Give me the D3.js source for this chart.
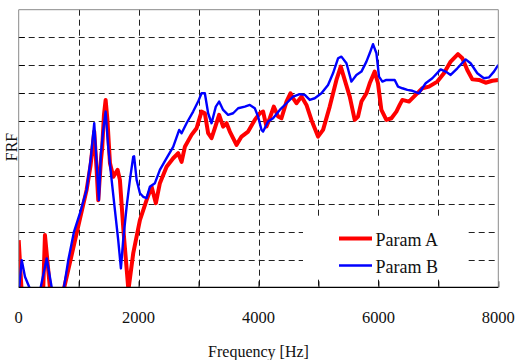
<!DOCTYPE html>
<html>
<head>
<meta charset="utf-8">
<script src="https://cdn.jsdelivr.net/npm/d3@7"></script>
<style>
    body { margin: 0; background: #fff; }
    svg { display: block; font-family: "Liberation Serif", "Times New Roman", serif; }
</style>
</head>
<body>
<div id="chart"></div>
<script>
"use strict";
const margin = {top: 9.7, right: 17.7, bottom: 72.7, left: 18.7}; // px
const width = 516;
const height = 360;

// frequency in Hz, response in grid units (no y labels on the original)
const freqA = [0, 45, 80, 380, 410, 438, 520, 560, 700, 760, 967, 1133, 1200, 1260, 1300, 1327, 1372, 1393, 1422, 1450, 1480, 1522, 1577, 1650, 1688, 1747, 1830, 1910, 2022, 2133, 2217, 2288, 2355, 2467, 2577, 2660, 2717, 2772, 2883, 2967, 3050, 3105, 3160, 3217, 3272, 3343, 3410, 3467, 3522, 3633, 3717, 3827, 3938, 4022, 4077, 4133, 4188, 4255, 4327, 4383, 4467, 4533, 4577, 4633, 4717, 4800, 4883, 4993, 5077, 5188, 5300, 5372, 5438, 5522, 5605, 5660, 5717, 5800, 5855, 5938, 5993, 6050, 6133, 6217, 6300, 6355, 6400, 6510, 6622, 6733, 6843, 6983, 7093, 7205, 7327, 7400, 7483, 7567, 7677, 7788, 7900, 8000];
const paramA = [17, 0, -15, -15, 0, 18.8, 0, -15, -15, 0, 19.5, 35.1, 44.1, 56.1, 42.3, 31.4, 45.8, 50.2, 62.1, 67.5, 60.3, 44.8, 39.8, 42.3, 38.7, 20.6, -1, 12.2, 24.2, 31.4, 36.2, 30.3, 37.5, 43.4, 46.5, 48.3, 45.2, 50.6, 54.9, 57.3, 63.3, 62.7, 55.5, 53.7, 57.3, 62.1, 57.9, 59.1, 56.1, 51.3, 54.3, 56.1, 60.3, 62.7, 63.3, 57.9, 60.9, 65.1, 61.5, 60.9, 66.9, 69.9, 68.1, 66.3, 68.7, 65.7, 60.3, 54.3, 56.7, 65.1, 74.7, 79.5, 74.7, 68.7, 60.3, 61.5, 66.9, 69.9, 73.5, 77.7, 73.5, 63.9, 60.3, 60.9, 63.3, 65.7, 67.5, 66.9, 69.3, 71.7, 72.3, 74.1, 77.1, 81.3, 84.0, 82.5, 78.3, 74.9, 74.7, 73.7, 74.4, 74.7];

const freqB = [0, 50, 105, 177, 220, 330, 367, 467, 550, 600, 700, 755, 827, 922, 1022, 1133, 1205, 1260, 1300, 1338, 1372, 1410, 1450, 1493, 1550, 1605, 1660, 1705, 1743, 1800, 1855, 1910, 1925, 1967, 2022, 2077, 2133, 2188, 2272, 2355, 2467, 2577, 2677, 2717, 2800, 2910, 2993, 3050, 3105, 3160, 3217, 3288, 3343, 3410, 3493, 3577, 3660, 3772, 3855, 3938, 3993, 4050, 4077, 4160, 4243, 4355, 4467, 4577, 4688, 4772, 4855, 4938, 5050, 5160, 5243, 5327, 5383, 5467, 5550, 5633, 5717, 5800, 5855, 5910, 5967, 6010, 6067, 6133, 6217, 6272, 6327, 6400, 6483, 6567, 6677, 6788, 6900, 7038, 7122, 7205, 7317, 7455, 7538, 7650, 7760, 7843, 7927, 8000];
const paramB = [-2, 9.8, 3.8, 0, -15, -15, 0, 10.4, 0, -15, -15, 0, 9.8, 20.0, 26.7, 35.1, 47.0, 59.1, 44.7, 31.4, 48.3, 56.7, 63.3, 50.6, 38.7, 27.8, 17.0, 6.8, 17.0, 29.0, 38.7, 47.0, 47.2, 38.7, 33.9, 32.6, 32.1, 36.2, 37.5, 42.3, 46.5, 50.6, 56.7, 55.5, 59.1, 63.3, 66.9, 69.9, 69.9, 62.7, 59.1, 65.1, 66.9, 63.9, 62.1, 62.7, 64.5, 65.1, 65.7, 64.5, 61.5, 56.7, 56.1, 59.7, 60.9, 63.9, 66.3, 68.7, 69.6, 69.3, 67.5, 68.1, 69.9, 72.9, 77.1, 82.5, 83.1, 80.7, 74.1, 76.5, 77.7, 81.3, 84.3, 87.6, 84.3, 75.9, 74.1, 74.7, 74.7, 74.7, 72.3, 71.7, 71.1, 70.8, 69.9, 73.5, 75.3, 78.5, 77.7, 76.5, 78.9, 82.1, 80.7, 77.1, 75.3, 75.6, 77.7, 80.1];

const xTicks = [0, 2000, 4000, 6000, 8000];
const xGrid = [1000, 2000, 3000, 4000, 5000, 6000, 7000];
const yGrid = [10, 20, 30, 40, 50, 60, 70, 80, 90];
const seriesNames = ["Param A", "Param B"];

const x = d3.scaleLinear().domain([0, 8000]).range([margin.left, width - margin.right]);
const y = d3.scaleLinear().domain([0, 100]).range([height - margin.bottom, margin.top]);

const svg = d3.select("#chart")
    .append("svg")
    .attr("width", width)
    .attr("height", height);

svg.append("defs").append("clipPath")
    .attr("id", "plot-clip")
    .append("rect")
    .attr("x", x(0))
    .attr("y", y(100))
    .attr("width", x(8000) - x(0))
    .attr("height", y(0) - y(100));

// dashed grid
const grid = svg.append("g")
    .attr("stroke", "#222")
    .attr("stroke-width", 1)
    .attr("stroke-dasharray", "6,4");

grid.selectAll("line.v")
    .data(xGrid)
    .join("line")
    .attr("class", "v")
    .attr("x1", (d) => Math.round(x(d)) + 0.5)
    .attr("x2", (d) => Math.round(x(d)) + 0.5)
    .attr("y1", y(100))
    .attr("y2", y(0));

grid.selectAll("line.h")
    .data(yGrid)
    .join("line")
    .attr("class", "h")
    .attr("x1", x(0))
    .attr("x2", x(8000))
    .attr("y1", (d) => Math.round(y(d)) + 0.5)
    .attr("y2", (d) => Math.round(y(d)) + 0.5);

// inner ticks on the left
svg.append("g")
    .selectAll("line")
    .data(yGrid)
    .join("line")
    .attr("stroke", "#000")
    .attr("x1", x(0))
    .attr("x2", x(0) + 6)
    .attr("y1", (d) => Math.round(y(d)) + 0.5)
    .attr("y2", (d) => Math.round(y(d)) + 0.5);

const line = d3.line()
    .x((d) => x(d[0]))
    .y((d) => y(d[1]));

const plot = svg.append("g").attr("clip-path", "url(#plot-clip)");

plot.append("path")
    .datum(d3.zip(freqA, paramA))
    .attr("fill", "none")
    .attr("stroke", "#ff0000")
    .attr("stroke-width", 4)
    .attr("stroke-linejoin", "round")
    .attr("d", line);

plot.append("path")
    .datum(d3.zip(freqB, paramB))
    .attr("fill", "none")
    .attr("stroke", "#0000ff")
    .attr("stroke-width", 2.4)
    .attr("stroke-linejoin", "round")
    .attr("d", line);

// legend, white box over the grid
const legend = svg.append("g");
legend.append("rect")
    .attr("x", 303)
    .attr("y", 217)
    .attr("width", 165)
    .attr("height", 62)
    .attr("fill", "#fff");

const legendColors = ["#ff0000", "#0000ff"];
const legendWidths = [4, 2.4];
seriesNames.forEach((name, i) => {
    const ly = 238.5 + i * 27;
    legend.append("line")
        .attr("x1", 339)
        .attr("x2", 372)
        .attr("y1", ly)
        .attr("y2", ly)
        .attr("stroke", legendColors[i])
        .attr("stroke-width", legendWidths[i]);
    legend.append("text")
        .attr("x", 375.5)
        .attr("y", ly + 7.3)
        .attr("font-size", 18)
        .attr("fill", "#111")
        .text(name);
});

// x axis: inner ticks and labels
const xAxis = d3.axisBottom(x)
    .tickValues(d3.range(1000, 8001, 1000))
    .tickSize(-6)
    .tickFormat("");

svg.append("g")
    .attr("transform", `translate(0,${y(0)})`)
    .call(xAxis)
    .call((g) => g.select(".domain").remove())
    .call((g) => g.selectAll(".tick line").attr("stroke", "#000"));

svg.append("g")
    .selectAll("text")
    .data(xTicks)
    .join("text")
    .attr("x", (d) => x(d))
    .attr("y", 322.7)
    .attr("text-anchor", "middle")
    .attr("font-size", 16.5)
    .attr("fill", "#111")
    .text((d) => d);

// frame
svg.append("path")
    .attr("fill", "none")
    .attr("stroke", "#8a8a8a")
    .attr("stroke-width", 1)
    .attr("d", `M${x(0)},${y(0)}V${y(100)}H${x(8000)}V${y(0)}`);

svg.append("line")
    .attr("stroke", "#000")
    .attr("stroke-width", 1.2)
    .attr("x1", x(0))
    .attr("x2", x(8000))
    .attr("y1", y(0))
    .attr("y2", y(0));

svg.append("text")
    .attr("x", 258.5)
    .attr("y", 356.5)
    .attr("text-anchor", "middle")
    .attr("font-size", 16)
    .attr("fill", "#111")
    .text("Frequency [Hz]");

svg.append("text")
    .attr("transform", "translate(17,147) rotate(-90)")
    .attr("text-anchor", "middle")
    .attr("font-size", 16)
    .attr("fill", "#111")
    .text("FRF");
</script>
</body>
</html>
